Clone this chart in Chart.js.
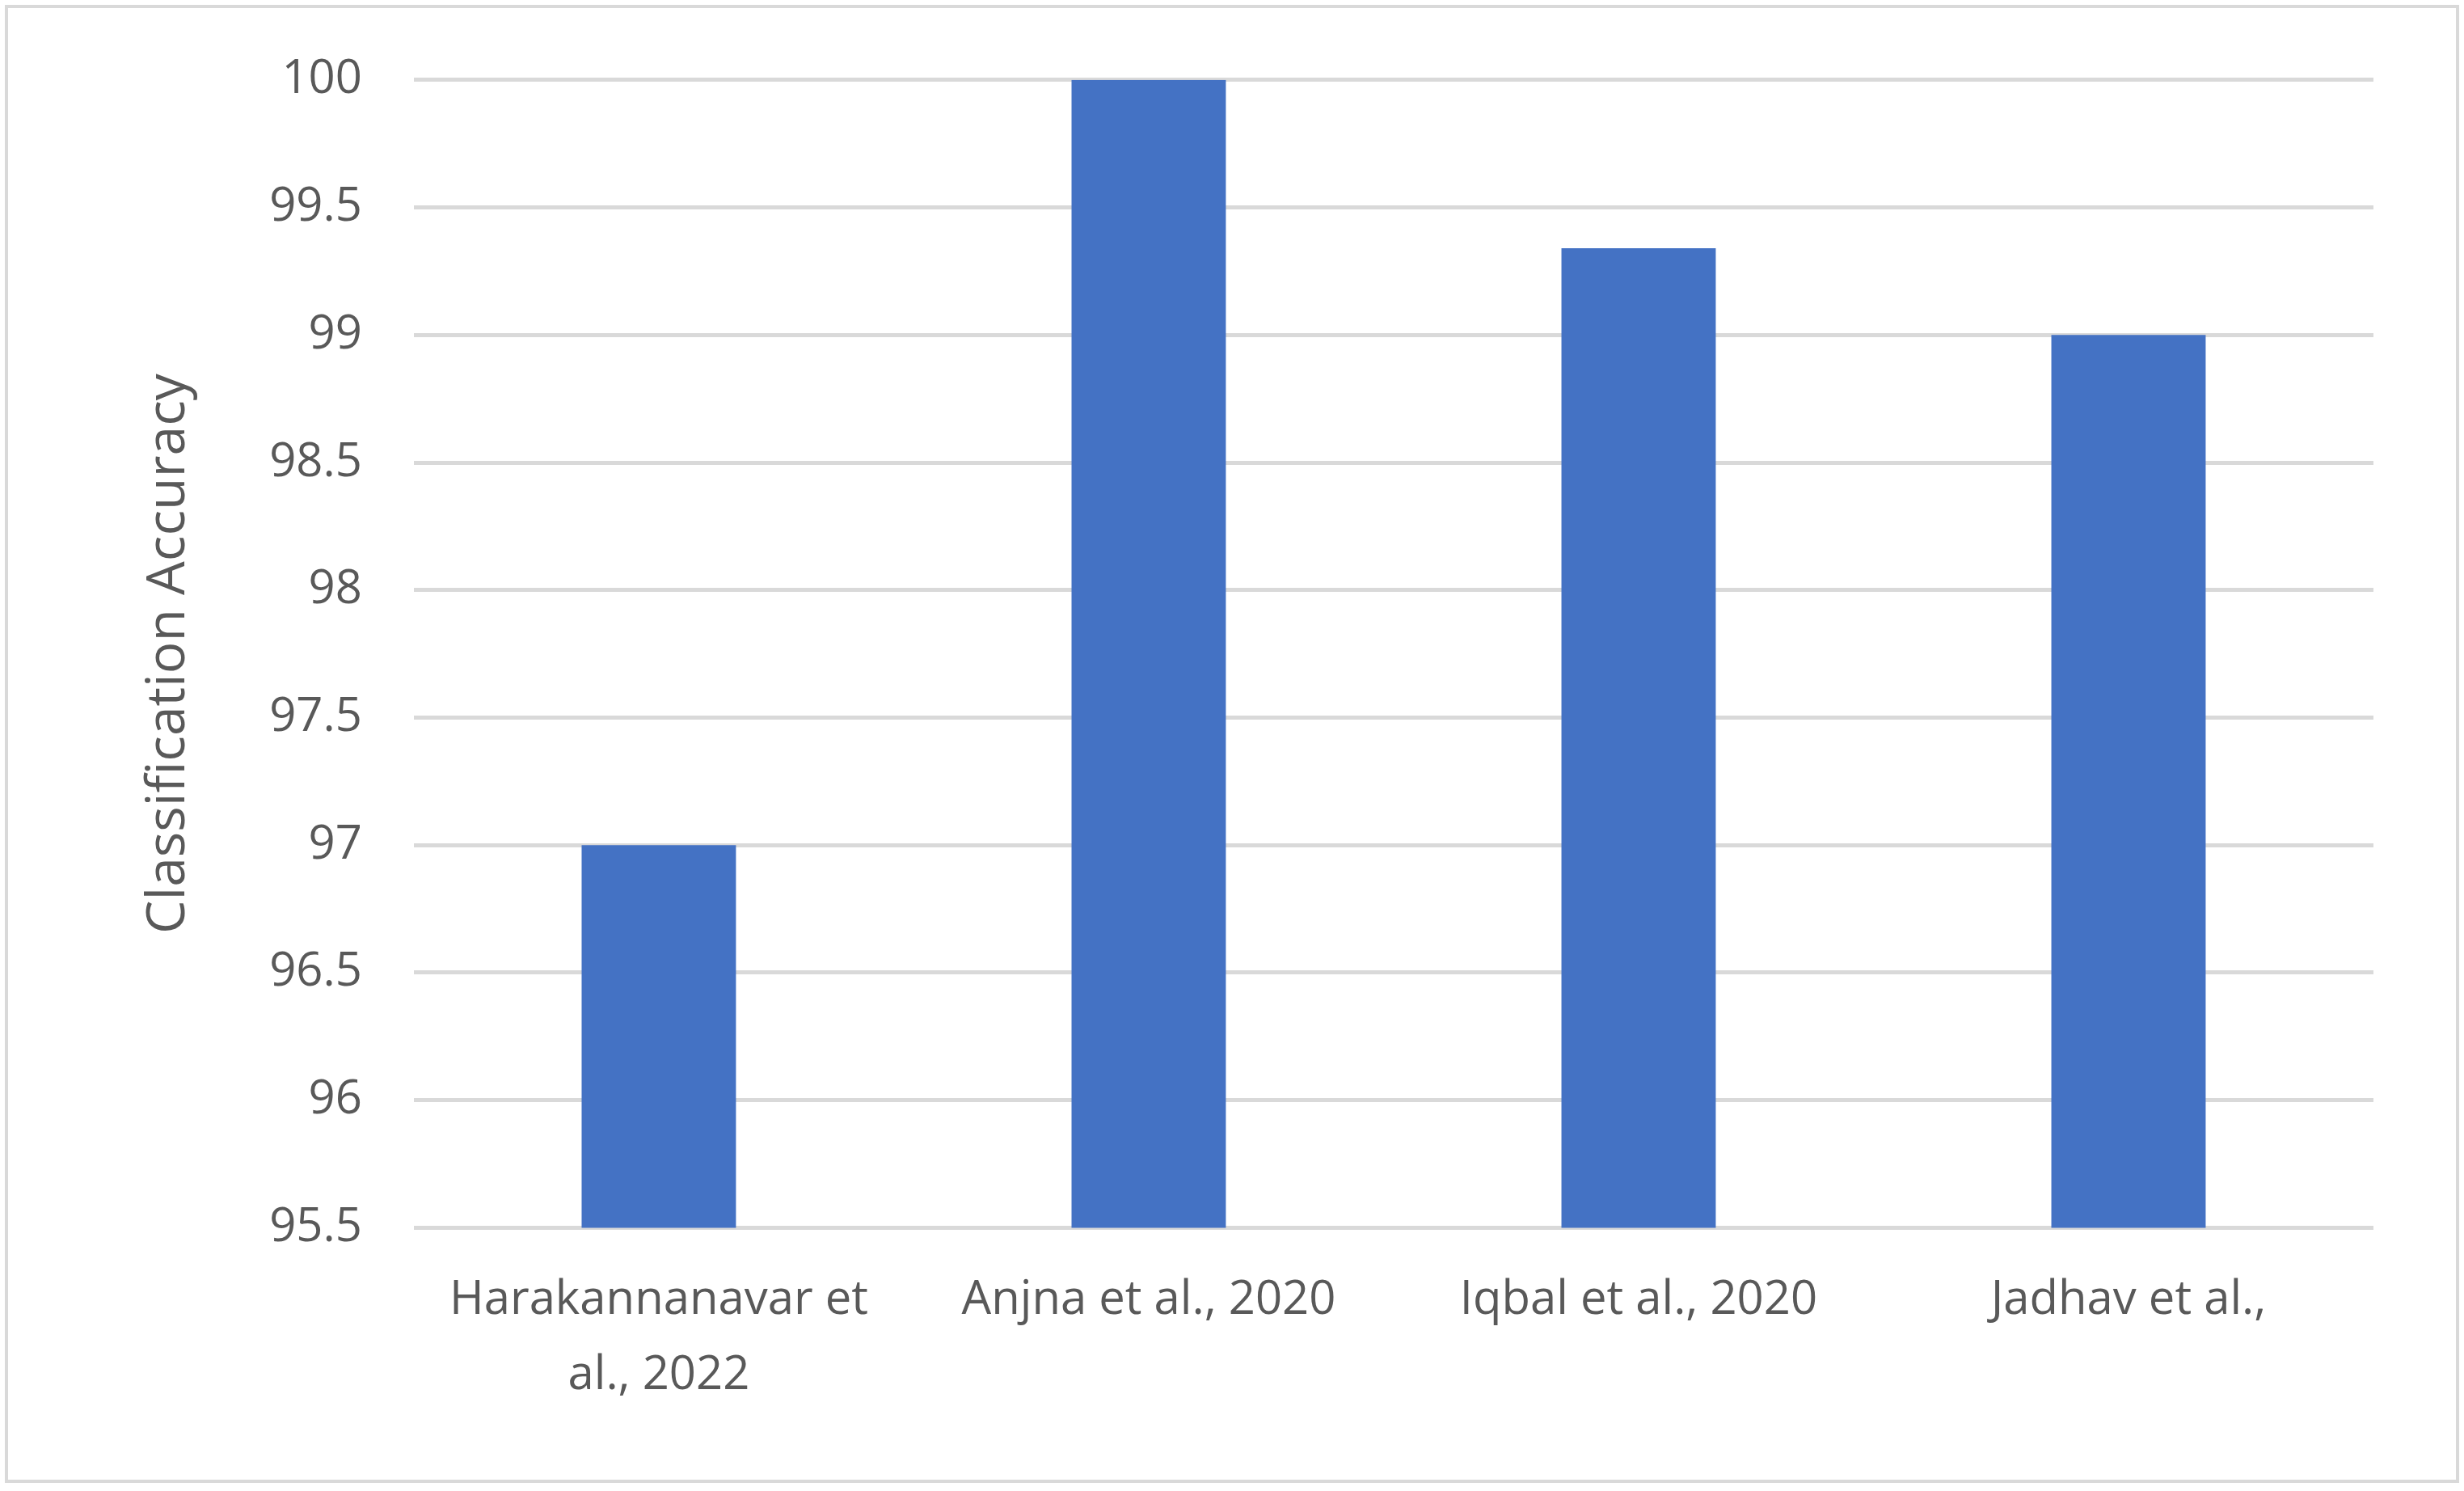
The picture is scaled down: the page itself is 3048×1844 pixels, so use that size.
<!DOCTYPE html>
<html>
<head>
<meta charset="utf-8">
<script src="https://cdn.jsdelivr.net/npm/chart.js@4"></script>
<style>
  body { margin: 0; background: #fff; }
  #wrap { width: 3048px; height: 1844px; }
</style>
</head>
<body>
<div id="wrap"><canvas id="chart" width="3048" height="1844"></canvas></div>
<script>
const categories = [
  ['Harakannanavar et', 'al., 2022'],
  'Anjna et al., 2020',
  'Iqbal et al., 2020',
  'Jadhav et al.,',
];
const accuracy = [97, 100, 99.34, 99];
const yMin = 95.5;
const yMax = 100;
const yStep = 0.5;

const TEXT = '#595959';
const GRID = '#d9d9d9';
const FONT = "'Open Sans', 'Liberation Sans', sans-serif";

// outer frame like the office chart area
const frame = {
  id: 'frame',
  beforeDraw(chart) {
    const c = chart.ctx;
    c.save();
    c.fillStyle = '#fff';
    c.fillRect(0, 0, chart.width, chart.height);
    c.strokeStyle = GRID;
    c.lineWidth = 4;
    c.strokeRect(8, 8, chart.width - 16, chart.height - 20);
    c.restore();
  },
};

new Chart(document.getElementById('chart'), {
  type: 'bar',
  data: {
    labels: categories,
    datasets: [{
      data: accuracy,
      backgroundColor: '#4472c4',
      barPercentage: 0.315,
      categoryPercentage: 1,
    }],
  },
  options: {
    responsive: false,
    devicePixelRatio: 1,
    animation: false,
    layout: { padding: { left: 150, right: 112, top: 98, bottom: 60 } },
    plugins: { legend: { display: false }, tooltip: { enabled: false } },
    scales: {
      x: {
        grid: { display: false },
        border: { display: false },
        ticks: { color: TEXT, font: { family: FONT, size: 58, lineHeight: 1.6 }, padding: 36, maxRotation: 0, autoSkip: false },
      },
      y: {
        min: yMin,
        max: yMax,
        grid: { color: GRID, lineWidth: 5, drawTicks: false },
        border: { display: false },
        ticks: {
          stepSize: yStep, color: TEXT, font: { family: FONT, size: 58 }, padding: 64,
          callback: v => String(v),
        },
        title: { display: true, text: 'Classification Accuracy', color: TEXT, font: { family: FONT, size: 66 }, padding: 20 },
      },
    },
  },
  plugins: [frame],
});
</script>
</body>
</html>
